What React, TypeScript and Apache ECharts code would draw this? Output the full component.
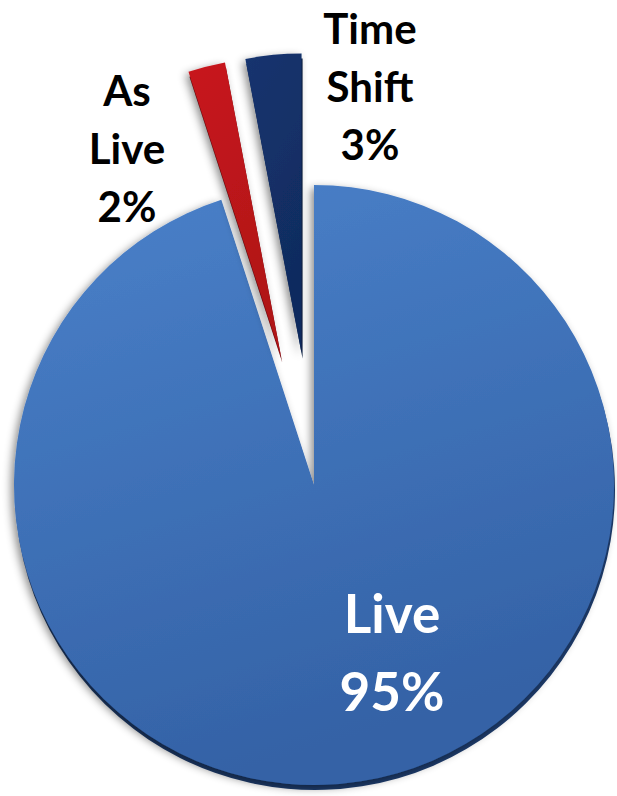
import React, { useEffect, useRef } from "react";
import * as echarts from "echarts";

const categories = ["Live", "As Live", "Time Shift"];
const shares = [95, 2, 3];
const exploded = [false, true, true];

const topColors = ["#4a81ca", "#c8171d", "#15346f"];
const bottomColors = ["#3462a6", "#b01217", "#102b5e"];
const depthColors = ["#1e3d6e", "#6e0a0d", "#0a1b3d"];
const labelColors = ["#ffffff", "#000000", "#000000"];
const labelSpots = [
  [392, 651],
  [127, 148],
  [370, 86],
];

export default function App() {
  const ref = useRef<HTMLDivElement>(null);
  useEffect(() => {
    document.body.style.margin = "0";
    const chart = echarts.init(ref.current!, null, { renderer: "svg" });
    const center = [314, 485];
    const radius = 300;

    const mainData = categories.map((name, i) => ({
      name,
      value: shares[i],
      selected: exploded[i],
      itemStyle: {
        color: new echarts.graphic.LinearGradient(0, 0, 0.3, 1, [
          { offset: 0, color: topColors[i] },
          { offset: 1, color: bottomColors[i] },
        ]),
        shadowBlur: 8,
        shadowColor: "rgba(0,0,0,0.45)",
        shadowOffsetX: -3,
        shadowOffsetY: 3,
      },
    }));

    const depthData = categories.map((name, i) => ({
      name,
      value: shares[i],
      selected: exploded[i],
      itemStyle: { color: depthColors[i] },
    }));

    const labels = categories.map((name, i) => ({
      type: "text",
      x: labelSpots[i][0],
      y: labelSpots[i][1],
      z: 10,
      style: {
        text: `${name.replace(" ", "\n")}\n${shares[i]}%`,
        fill: labelColors[i],
        font: `bold ${i === 0 ? 53 : 42}px Lato`,
        lineHeight: i === 0 ? 78 : 58,
        align: "center",
        verticalAlign: "middle",
        textAlign: "center",
        textVerticalAlign: "middle",
      },
    }));

    chart.setOption({
      animation: false,
      graphic: labels,
      series: [
        {
          type: "pie",
          silent: true,
          z: 1,
          center: [center[0] + 1, center[1] + 5],
          radius,
          startAngle: 90,
          clockwise: true,
          selectedMode: "multiple",
          selectedOffset: 132,
          label: { show: false },
          labelLine: { show: false },
          emphasis: { disabled: true },
          data: depthData,
        },
        {
          type: "pie",
          silent: true,
          z: 2,
          center,
          radius,
          startAngle: 90,
          clockwise: true,
          selectedMode: "multiple",
          selectedOffset: 132,
          emphasis: { disabled: true },
          labelLine: { show: false },
          label: { show: false },
          data: mainData,
        },
      ],
    });
    return () => chart.dispose();
  }, []);
  return <div ref={ref} style={{ width: 617, height: 796 }} />;
}
